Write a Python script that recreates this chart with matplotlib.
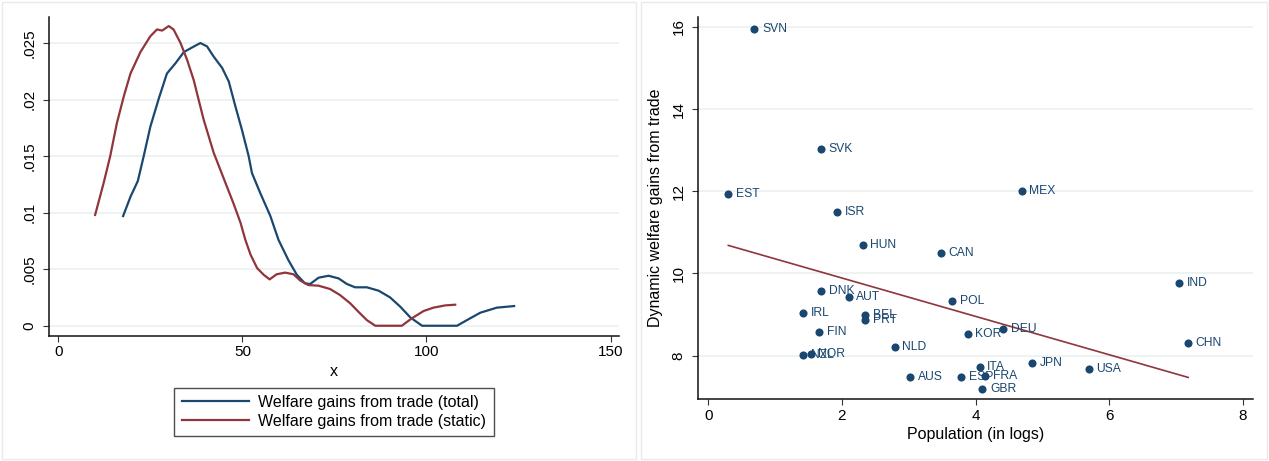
import numpy as np
import matplotlib.pyplot as plt
from matplotlib.patches import Rectangle
from matplotlib.lines import Line2D

plt.rcParams['font.family'] = ['Liberation Sans', 'DejaVu Sans']

navy = '#1a476f'
maroon = '#90353b'
grid_c = '#e8f0f0'

# left panel: kernel densities of welfare gains
total_x = [17.6, 19.6, 21.6, 23.2, 25.0, 27.3, 29.5, 31.8, 34.1, 36.3, 38.6, 40.4,
           42.2, 44.5, 46.3, 48.1, 49.9, 51.7, 52.6, 54.9, 57.6, 59.8, 62.5, 64.8,
           67.0, 68.4, 70.7, 73.4, 76.1, 78.4, 80.6, 83.8, 87.0, 90.1, 92.9, 95.6,
           98.8, 108.3, 111.0, 114.6, 119.1, 123.8]
total_y = [.0097, .0114, .0128, .0150, .0176, .0201, .0223, .0232, .0242, .0246, .0250, .0247,
           .0238, .0228, .0216, .0194, .0173, .0150, .0135, .0117, .0097, .0076, .0058, .0045,
           .00375, .00369, .00425, .00442, .00419, .00369, .0034, .0034, .0031, .00251, .00168, .00074,
           0, 0, .0005, .00115, .0016, .00174]

static_x = [10.0, 12.3, 14.1, 15.9, 17.8, 19.6, 22.3, 25.0, 26.8, 28.2, 30.0, 31.3,
            33.2, 35.0, 36.8, 38.1, 39.5, 40.9, 42.2, 44.0, 45.8, 47.6, 49.5, 50.8,
            52.2, 54.0, 55.8, 57.4, 59.3, 61.6, 63.9, 65.7, 67.9, 70.7, 73.8, 76.5,
            79.3, 81.5, 83.8, 86.1, 93.3, 96.0, 99.2, 101.9, 105.1, 107.8]
static_y = [.0098, .0126, .0150, .0179, .0203, .0223, .0242, .0256, .0262, .0261, .0265, .0262,
            .0250, .0235, .0217, .0200, .0182, .0167, .0153, .0138, .0123, .0108, .0091, .0076,
            .0063, .0051, .0045, .0041, .00455, .0047, .00455, .0040, .0036, .00354, .00325, .00272,
            .00198, .00124, .0005, 0, 0, .00065, .0013, .0016, .0018, .00186]

# right panel: dynamic gains vs population
countries = ['SVN', 'SVK', 'EST', 'MEX', 'ISR', 'HUN', 'CAN', 'IND', 'DNK', 'AUT',
             'POL', 'IRL', 'BEL', 'PRT', 'FIN', 'DEU', 'KOR', 'CHN', 'NLD', 'NZL',
             'NOR', 'ITA', 'JPN', 'USA', 'AUS', 'ESP', 'FRA', 'GBR']
log_pop = [0.69, 1.68, 0.30, 4.69, 1.93, 2.31, 3.48, 7.05, 1.69, 2.10,
           3.65, 1.42, 2.35, 2.35, 1.66, 4.41, 3.88, 7.18, 2.79, 1.42,
           1.53, 4.06, 4.85, 5.69, 3.02, 3.78, 4.14, 4.10]
dyn_gains = [15.95, 13.04, 11.94, 12.00, 11.49, 10.70, 10.50, 9.78, 9.58, 9.42,
             9.34, 9.03, 9.00, 8.88, 8.57, 8.66, 8.53, 8.32, 8.20, 8.02,
             8.04, 7.73, 7.81, 7.67, 7.49, 7.49, 7.50, 7.19]

left_yticks = [0, .005, .01, .015, .02, .025]
left_ylabels = ['0', '.005', '.01', '.015', '.02', '.025']
left_xticks = [0, 50, 100, 150]
right_yticks = [8, 10, 12, 14, 16]
right_xticks = [0, 2, 4, 6, 8]

fig = plt.figure(figsize=(12.69, 4.61), dpi=100)

# light panel borders
for x0, w in [(0.0016, 0.4997), (0.5051, 0.4933)]:
    fig.patches.append(Rectangle((x0, 0.004), w, 0.991, transform=fig.transFigure,
                                 fill=False, edgecolor='#eaeaea', lw=1))

ax1 = fig.add_axes([0.0384, 0.2718, 0.4497, 0.6913])
ax2 = fig.add_axes([0.5502, 0.1341, 0.4374, 0.8291])

for ax in (ax1, ax2):
    ax.spines['top'].set_visible(False)
    ax.spines['right'].set_visible(False)
    for s in ('left', 'bottom'):
        ax.spines[s].set_linewidth(1.1)
        ax.spines[s].set_color('#111111')
    ax.tick_params(direction='out', length=4, width=0.8, color='#333333',
                   labelsize=11, pad=3)
    ax.grid(axis='y', color=grid_c, lw=1.1)
    ax.set_axisbelow(True)

ax1.plot(total_x, total_y, color=navy, lw=1.6)
ax1.plot(static_x, static_y, color=maroon, lw=1.6)
ax1.set_xlim(-2.6, 152.4)
ax1.set_ylim(-0.00088, 0.0273)
ax1.set_xticks(left_xticks)
ax1.set_yticks(left_yticks)
ax1.set_yticklabels(left_ylabels, rotation=90, va='center')
ax1.tick_params(axis='y', pad=5)
ax1.set_xlabel('x', fontsize=11.5, labelpad=3)

handles = [Line2D([], [], color=navy, lw=1.6), Line2D([], [], color=maroon, lw=1.6)]
leg = fig.legend(handles, ['Welfare gains from trade (total)', 'Welfare gains from trade (static)'],
                 loc='upper center', bbox_to_anchor=(0.2632, 0.159), borderaxespad=0,
                 fancybox=False, edgecolor='#222222', fontsize=11.5, handlelength=4.2,
                 handletextpad=0.6, labelspacing=0.25, borderpad=0.45)
leg.get_frame().set_linewidth(1.0)

ax2.scatter(log_pop, dyn_gains, s=34, color=navy, zorder=3, linewidths=0)
for name, xv, yv in zip(countries, log_pop, dyn_gains):
    ax2.annotate(name, (xv, yv), xytext=(5.5, 0), textcoords='offset points',
                 va='center', ha='left', fontsize=8.7, color=navy)

coef = np.polyfit(log_pop, dyn_gains, 1)
fx = np.array([min(log_pop), max(log_pop)])
ax2.plot(fx, np.polyval(coef, fx), color=maroon, lw=1.2, zorder=2)

ax2.set_xlim(-0.151, 8.154)
ax2.set_ylim(6.941, 16.243)
ax2.set_xticks(right_xticks)
ax2.set_yticks(right_yticks)
ax2.set_yticklabels([str(v) for v in right_yticks], rotation=90, va='center')
ax2.tick_params(axis='y', pad=5)
ax2.set_xlabel('Population (in logs)', fontsize=11.5, labelpad=3)
ax2.set_ylabel('Dynamic welfare gains from trade', fontsize=11.5, labelpad=6)

fig.savefig('out.png', dpi=100)
